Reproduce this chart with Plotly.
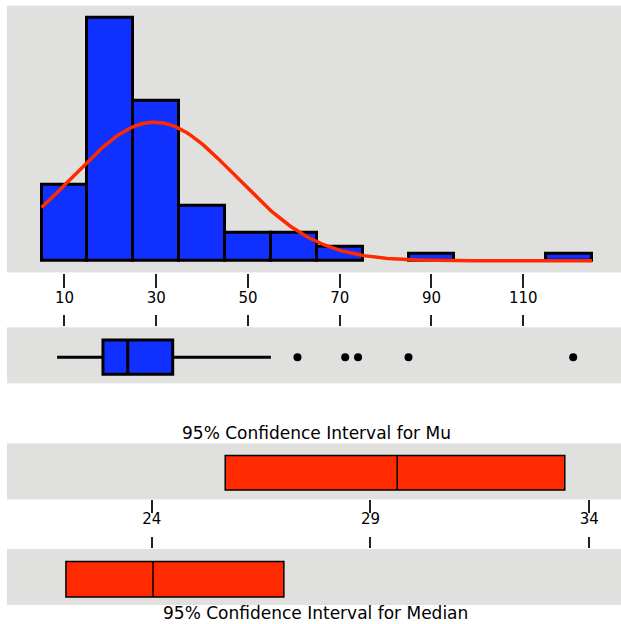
import numpy as np
import plotly.graph_objects as go

# ---- data ----
bin_left = [5, 15, 25, 35, 45, 55, 65, 75, 85, 95, 105, 115]
bin_counts = [11, 35, 23, 8, 4, 4, 2, 0, 1, 0, 0, 1]
bin_width = 10
hist_ticks = [10, 30, 50, 70, 90, 110]

# fitted normal curve parameters
fit_mean = 29.6
fit_sd = 17.8
n_obs = sum(bin_counts)

# boxplot summary
box_q1 = 18.4
box_median = 23.8
box_q3 = 33.6
box_low = 8.4
box_high = 55.0
outliers = [60.8, 71.2, 74.0, 85.0, 120.9]

# confidence intervals
mu_ci = [25.68, 29.61, 33.44]      # low, mean, high
median_ci = [22.04, 24.03, 27.02]  # low, median, high
ci_ticks = [24, 29, 34]

title_mu = "95% Confidence Interval for Mu"
title_median = "95% Confidence Interval for Median"

# ---- styling ----
W, H = 621, 624
BG = "#E0E1DF"
BLUE = "#0F30FF"
RED = "#FF2A00"
FONT = "DejaVu Sans"

def ydom(top_px, bot_px):
    return [1 - bot_px / H, 1 - top_px / H]

xdom = [7 / W, 1]
hist_range = [-2.52, 131.32]
ci_range = [20.693, 34.725]

fig = go.Figure()

# histogram bars (non-empty bins)
bx = [l + bin_width / 2 for l, c in zip(bin_left, bin_counts) if c > 0]
by = [c for c in bin_counts if c > 0]
fig.add_trace(go.Bar(x=bx, y=by, width=bin_width, marker=dict(color=BLUE, line=dict(color="black", width=3)),
                     xaxis="x", yaxis="y", hoverinfo="skip"))

# fitted normal curve
cx = np.linspace(bin_left[0], bin_left[-1] + bin_width, 300)
cy = n_obs * bin_width / (fit_sd * np.sqrt(2 * np.pi)) * np.exp(-0.5 * ((cx - fit_mean) / fit_sd) ** 2)
fig.add_trace(go.Scatter(x=cx, y=cy, mode="lines", line=dict(color=RED, width=3.5), xaxis="x", yaxis="y",
                         hoverinfo="skip"))

# boxplot
fig.add_trace(go.Box(q1=[box_q1], median=[box_median], q3=[box_q3], lowerfence=[box_low], upperfence=[box_high],
                     y=[0], orientation="h", width=1.22, whiskerwidth=0, boxpoints=False,
                     fillcolor=BLUE, line=dict(color="black", width=3), xaxis="x2", yaxis="y2"))
fig.add_trace(go.Scatter(x=outliers, y=[0] * len(outliers), mode="markers",
                         marker=dict(color="black", size=8), xaxis="x2", yaxis="y2"))

# CI for mu
fig.add_trace(go.Box(q1=[mu_ci[0]], median=[mu_ci[1]], q3=[mu_ci[2]], lowerfence=[mu_ci[0]], upperfence=[mu_ci[2]],
                     y=[0], orientation="h", width=1.23, whiskerwidth=0, boxpoints=False,
                     fillcolor=RED, line=dict(color="black", width=1.5), xaxis="x3", yaxis="y3"))
# CI for median
fig.add_trace(go.Box(q1=[median_ci[0]], median=[median_ci[1]], q3=[median_ci[2]], lowerfence=[median_ci[0]],
                     upperfence=[median_ci[2]],
                     y=[0], orientation="h", width=1.27, whiskerwidth=0, boxpoints=False,
                     fillcolor=RED, line=dict(color="black", width=1.5), xaxis="x4", yaxis="y4"))

axis_common = dict(showgrid=False, zeroline=False, showline=False, fixedrange=True)
tickfont = dict(family=FONT, size=15, color="black")

fig.update_layout(
    width=W, height=H, margin=dict(l=0, r=0, t=0, b=0),
    paper_bgcolor="white", plot_bgcolor=BG, showlegend=False, bargap=0,
    xaxis=dict(domain=xdom, range=hist_range, anchor="y", tickmode="array", tickvals=hist_ticks,
               ticks="outside", ticklen=14, tickwidth=1.5, tickcolor="#222", tickfont=tickfont,
               ticklabelstandoff=-3, **axis_common),
    yaxis=dict(domain=ydom(5.7, 272.5), range=[-1.68, 36.7], anchor="x", showticklabels=False, **axis_common),
    xaxis2=dict(domain=xdom, range=hist_range, anchor="y2", side="top", tickmode="array", tickvals=hist_ticks,
                ticks="outside", ticklen=11, tickwidth=1.5, tickcolor="#222", showticklabels=False, **axis_common),
    yaxis2=dict(domain=ydom(327.3, 383.3), range=[-0.932, 1.068], anchor="x2", showticklabels=False, **axis_common),
    xaxis3=dict(domain=xdom, range=ci_range, anchor="y3", tickmode="array", tickvals=ci_ticks,
                ticks="outside", ticklen=13, tickwidth=1.5, tickcolor="#222", tickfont=tickfont,
                ticklabelstandoff=-7, **axis_common),
    yaxis3=dict(domain=ydom(443.3, 499.3), range=[-0.945, 1.055], anchor="x3", showticklabels=False, **axis_common),
    xaxis4=dict(domain=xdom, range=ci_range, anchor="y4", side="top", tickmode="array", tickvals=ci_ticks,
                ticks="outside", ticklen=11, tickwidth=1.5, tickcolor="#222", showticklabels=False, **axis_common),
    yaxis4=dict(domain=ydom(549, 605), range=[-0.921, 1.079], anchor="x4", showticklabels=False, **axis_common),
    annotations=[
        dict(text=title_mu, x=316 / W, y=1 - 433 / H, xref="paper", yref="paper", showarrow=False,
             xanchor="center", yanchor="middle", font=dict(family=FONT, size=17, color="black")),
        dict(text=title_median, x=315 / W, y=1 - 612.5 / H, xref="paper", yref="paper", showarrow=False,
             xanchor="center", yanchor="middle", font=dict(family=FONT, size=17, color="black")),
    ],
)

fig.write_html("out.html")
